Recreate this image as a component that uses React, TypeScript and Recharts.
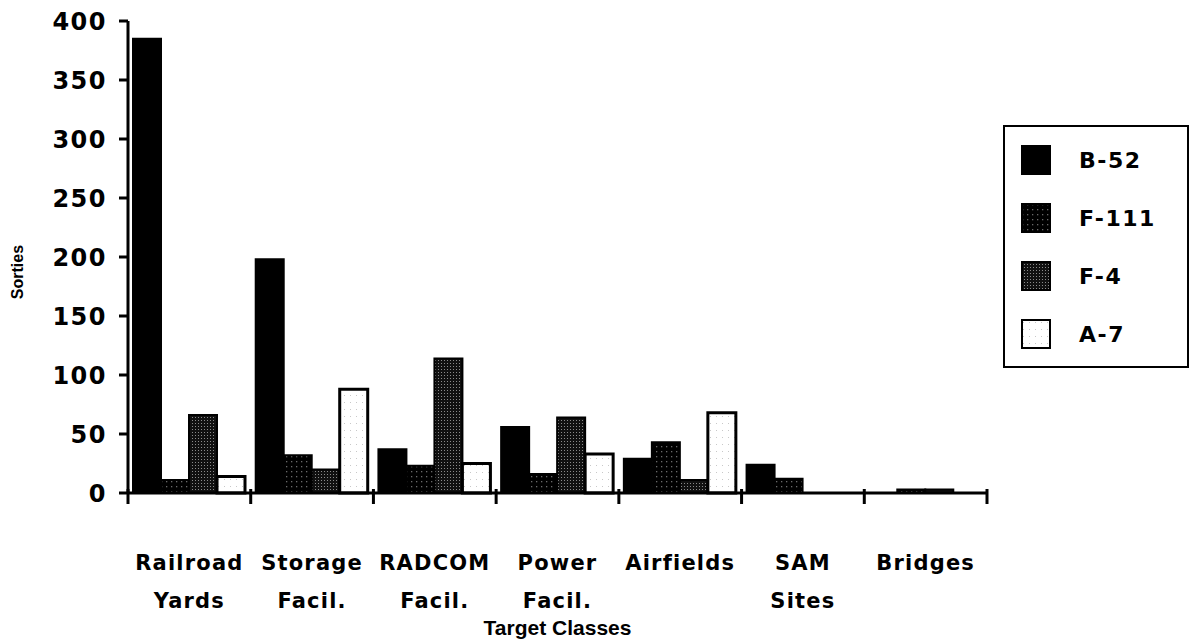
import React from "react";
import { BarChart, Bar, XAxis, YAxis, Legend } from "recharts";

const categories = ["Railroad Yards", "Storage Facil.", "RADCOM Facil.", "Power Facil.", "Airfields", "SAM Sites", "Bridges"];
const labelLine1 = ["Railroad", "Storage", "RADCOM", "Power", "Airfields", "SAM", "Bridges"];
const labelLine2 = ["Yards", "Facil.", "Facil.", "Facil.", "", "Sites", ""];
const seriesKeys = ["b52", "f111", "f4", "a7"];
const seriesNames = ["B-52", "F-111", "F-4", "A-7"];
const b52 = [385, 198, 37, 56, 29, 24, 0];
const f111 = [11, 32, 23, 16, 43, 12, 3];
const f4 = [66, 20, 114, 64, 11, 0, 3];
const a7 = [14, 88, 25, 33, 68, 0, 0];
const yTicks = [0, 50, 100, 150, 200, 250, 300, 350, 400];

const data = categories.map((c, i) => ({ name: c, b52: b52[i], f111: f111[i], f4: f4[i], a7: a7[i] }));

const CatTick = (props: any) => {
  const { x, y, index, width } = props;
  const n = categories.length;
  const band = (width || 857) / n;
  return (
    <g>
      <line x1={x - band / 2} x2={x - band / 2} y1={y - 4} y2={y + 11} stroke="#000" strokeWidth={3} />
      {index === n - 1 && (
        <line x1={x + band / 2} x2={x + band / 2} y1={y - 4} y2={y + 11} stroke="#000" strokeWidth={3} />
      )}
      <text
        x={x}
        y={y + 77}
        textAnchor="middle"
        fontFamily="DejaVu Sans"
        fontWeight="bold"
        fontSize={21}
        letterSpacing={1.2}
        fill="#000"
      >
        <tspan x={x}>{labelLine1[index]}</tspan>
        <tspan x={x} dy={38}>{labelLine2[index]}</tspan>
      </text>
    </g>
  );
};

const LegendBox = (props: any) => {
  const items = [...(props.payload || [])].sort(
    (a: any, b: any) => seriesKeys.indexOf(a.dataKey) - seriesKeys.indexOf(b.dataKey)
  );
  return (
    <div
      style={{
        position: "absolute",
        left: 1003,
        top: 125,
        width: 182,
        height: 239,
        border: "2px solid #000",
        background: "#fff",
        boxSizing: "content-box",
      }}
    >
      {items.map((e: any, i: number) => (
        <div
          key={i}
          style={{
            position: "absolute",
            left: 16,
            top: 18 + i * 58,
            height: 30,
            display: "flex",
            alignItems: "center",
          }}
        >
          <svg width={30} height={30} style={{ display: "block" }}>
            <rect x={1} y={1} width={28} height={28} fill={e.color} stroke="#000" strokeWidth={2} />
          </svg>
          <span
            style={{
              marginLeft: 28,
              fontFamily: "DejaVu Sans",
              fontWeight: "bold",
              fontSize: 22,
              letterSpacing: 1.5,
              color: "#000",
            }}
          >
            {e.value}
          </span>
        </div>
      ))}
    </div>
  );
};

const fills = ["#000", "url(#pF111)", "url(#pF4)", "url(#pA7)"];

export default function App() {
  return (
    <div style={{ position: "absolute", left: 0, top: 0, width: 1192, height: 644, background: "#fff" }}>
      <BarChart
        width={1192}
        height={644}
        data={data}
        margin={{ top: 21, right: 205, bottom: 0, left: 0 }}
        barCategoryGap={5}
        barGap={0}
      >
        <defs>
          <pattern id="pF111" width="5" height="5" patternUnits="userSpaceOnUse">
            <rect width="5" height="5" fill="#000" />
            <rect x="1" y="1" width="1.3" height="1.3" fill="#6a6a6a" />
          </pattern>
          <pattern id="pF4" width="3" height="3" patternUnits="userSpaceOnUse">
            <rect width="3" height="3" fill="#111" />
            <rect x="0" y="0" width="1" height="1" fill="#8a8a8a" />
          </pattern>
          <pattern id="pA7" width="6" height="7" patternUnits="userSpaceOnUse">
            <rect width="6" height="7" fill="#fff" />
            <rect x="2" y="3" width="1" height="1" fill="#c8c8c8" />
          </pattern>
        </defs>
        <YAxis
          width={128}
          domain={[0, 400]}
          ticks={yTicks}
          interval={0}
          axisLine={{ stroke: "#000", strokeWidth: 3 }}
          tickLine={{ stroke: "#000", strokeWidth: 3 }}
          tickSize={9}
          tickMargin={12}
          tick={{ fill: "#000", fontFamily: "DejaVu Sans", fontWeight: "bold", fontSize: 24, letterSpacing: 1.5 }}
          label={{
            content: (p: any) => {
              const vb = p.viewBox || { x: 0, y: 21, width: 128, height: 472 };
              const cx = vb.x + 17;
              const cy = vb.y + vb.height / 2 + 15;
              return (
                <text
                  x={cx}
                  y={cy}
                  transform={`rotate(-90 ${cx} ${cy})`}
                  textAnchor="middle"
                  dominantBaseline="central"
                  fontFamily="Liberation Sans"
                  fontWeight="bold"
                  fontSize={16}
                  fill="#000"
                >
                  Sorties
                </text>
              );
            },
          }}
        />
        <XAxis
          dataKey="name"
          height={151}
          interval={0}
          axisLine={{ stroke: "#000", strokeWidth: 3 }}
          tickLine={false}
          tickSize={0}
          tickMargin={0}
          tick={<CatTick />}
          label={{
            value: "Target Classes",
            position: "insideBottom",
            offset: 9,
            fill: "#000",
            fontFamily: "Liberation Sans",
            fontWeight: "bold",
            fontSize: 21,
          }}
        />
        <Legend
          verticalAlign="top"
          content={<LegendBox />}
          wrapperStyle={{ position: "absolute", left: 0, top: 0, width: 0, height: 0, overflow: "visible" }}
        />
        {seriesKeys.map((k, i) => (
          <Bar
            key={k}
            dataKey={k}
            name={seriesNames[i]}
            fill={fills[i]}
            stroke="#000"
            strokeWidth={i === 3 ? 3 : 2}
            isAnimationActive={false}
          />
        ))}
      </BarChart>
    </div>
  );
}
